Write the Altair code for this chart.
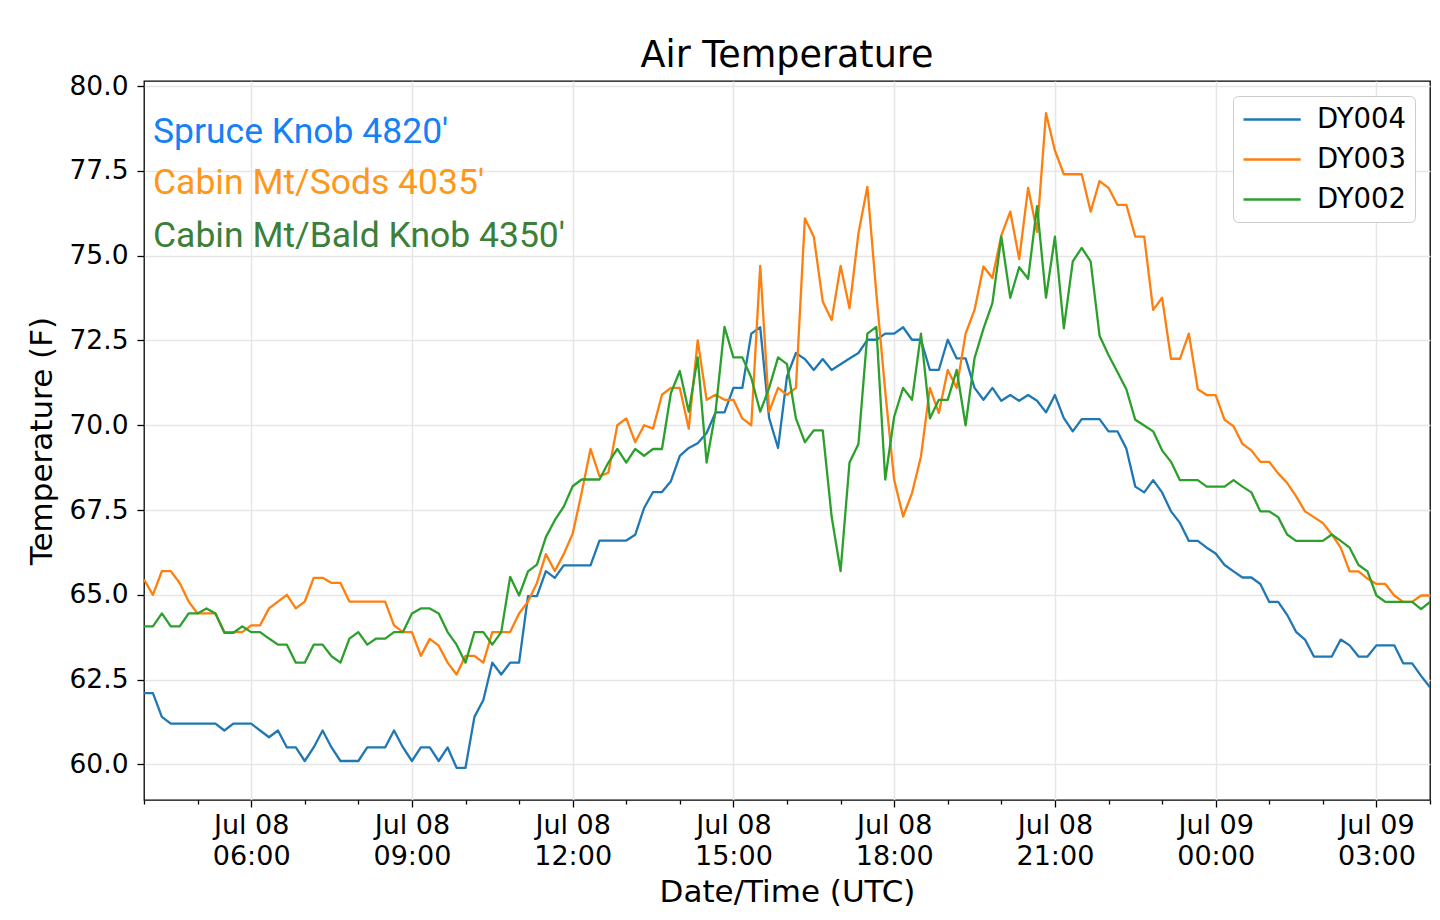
import altair as alt
import pandas as pd

# ---- data (10-minute samples from Jul 08 04:00 UTC) ----
dy004 = [
    62.1, 62.1, 61.4, 61.2, 61.2, 61.2, 61.2, 61.2, 61.2, 61.0,
    61.2, 61.2, 61.2, 61.0, 60.8, 61.0, 60.5, 60.5, 60.1, 60.5,
    61.0, 60.5, 60.1, 60.1, 60.1, 60.5, 60.5, 60.5, 61.0, 60.5,
    60.1, 60.5, 60.5, 60.1, 60.5, 59.9, 59.9, 61.4, 61.9, 63.0,
    62.65, 63.0, 63.0, 64.96, 64.96, 65.7, 65.5, 65.87, 65.87, 65.87,
    65.87, 66.6, 66.6, 66.6, 66.6, 66.77, 67.56, 68.03, 68.03, 68.35,
    69.1, 69.33, 69.47, 69.77, 70.38, 70.38, 71.1, 71.1, 72.7, 72.89,
    70.21, 69.33, 71.44, 72.13, 71.95, 71.63, 71.95, 71.63, 71.8, 71.97,
    72.13, 72.52, 72.52, 72.7, 72.7, 72.89, 72.52, 72.52, 71.63, 71.63,
    72.52, 71.97, 71.97, 71.1, 70.75, 71.1, 70.72, 70.89, 70.72, 70.89,
    70.72, 70.38, 70.89, 70.21, 69.82, 70.18, 70.18, 70.18, 69.82, 69.82,
    69.31, 68.19, 68.02, 68.38, 68.02, 67.46, 67.12, 66.59, 66.59, 66.39,
    66.22, 65.88, 65.69, 65.51, 65.51, 65.32, 64.79, 64.79, 64.41, 63.91,
    63.68, 63.18, 63.18, 63.18, 63.68, 63.51, 63.18, 63.18, 63.51, 63.51,
    63.51, 62.98, 62.98, 62.61, 62.27,
]
dy003 = [
    65.45, 65.0, 65.7, 65.7, 65.35, 64.8, 64.45, 64.45, 64.45, 63.9,
    63.9, 63.9, 64.1, 64.1, 64.6, 64.8, 65.0, 64.6, 64.8, 65.5,
    65.5, 65.35, 65.35, 64.8, 64.8, 64.8, 64.8, 64.8, 64.1, 63.9,
    63.9, 63.2, 63.7, 63.5, 63.0, 62.65, 63.2, 63.2, 63.0, 63.9,
    63.9, 63.9, 64.45, 64.8, 65.35, 66.2, 65.7, 66.2, 66.8, 68.0,
    69.3, 68.5, 68.6, 70.0, 70.2, 69.5, 70.0, 69.9, 70.9, 71.1,
    71.1, 69.9, 72.5, 70.75, 70.9, 70.75, 70.75, 70.2, 70.0, 74.7,
    70.4, 71.1, 70.9, 71.1, 76.1, 75.56, 73.65, 73.1, 74.7, 73.45,
    75.66, 77.03, 73.9, 71.0, 68.39, 67.31, 68.0, 69.08, 71.1, 70.36,
    71.63, 71.1, 72.7, 73.4, 74.68, 74.34, 75.6, 76.3, 74.9, 77.0,
    75.7, 79.2, 78.1, 77.4, 77.4, 77.4, 76.3, 77.2, 77.0, 76.5,
    76.5, 75.56, 75.56, 73.4, 73.76, 71.96, 71.96, 72.7, 71.06, 70.89,
    70.89, 70.16, 69.97, 69.45, 69.26, 68.92, 68.92, 68.58, 68.3, 67.91,
    67.46, 67.29, 67.12, 66.78, 66.39, 65.69, 65.69, 65.48, 65.32, 65.32,
    64.98, 64.79, 64.79, 64.98, 64.98,
]
dy002 = [
    64.07, 64.07, 64.45, 64.07, 64.07, 64.45, 64.45, 64.6, 64.45, 63.88,
    63.88, 64.07, 63.9, 63.9, 63.71, 63.53, 63.53, 63.0, 63.0, 63.53,
    63.53, 63.19, 63.0, 63.71, 63.9, 63.53, 63.71, 63.71, 63.9, 63.9,
    64.45, 64.6, 64.6, 64.45, 63.9, 63.53, 63.0, 63.9, 63.9, 63.53,
    63.9, 65.53, 64.98, 65.69, 65.89, 66.7, 67.2, 67.6, 68.2, 68.4,
    68.4, 68.4, 68.9, 69.3, 68.9, 69.3, 69.1, 69.3, 69.3, 70.95,
    71.6, 70.4, 72.0, 68.9, 70.4, 72.9, 72.0, 72.0, 71.4, 70.4,
    71.1, 72.0, 71.8, 70.2, 69.5, 69.85, 69.85, 67.3, 65.7, 68.9,
    69.45, 72.7, 72.9, 68.4, 70.25, 71.1, 70.75, 72.7, 70.2, 70.75,
    70.75, 71.63, 70.0, 71.98, 72.85, 73.6, 75.56, 73.76, 74.66, 74.32,
    76.46, 73.76, 75.56, 72.86, 74.83, 75.23, 74.83, 72.64, 72.07, 71.57,
    71.06, 70.16, 69.99, 69.82, 69.26, 68.92, 68.38, 68.38, 68.38, 68.19,
    68.19, 68.19, 68.38, 68.19, 68.02, 67.46, 67.46, 67.29, 66.78, 66.59,
    66.59, 66.59, 66.59, 66.78, 66.59, 66.39, 65.88, 65.69, 64.98, 64.79,
    64.79, 64.79, 64.79, 64.58, 64.79,
]

stations = ["DY004", "DY003", "DY002"]
line_colors = ["#1f77b4", "#ff7f0e", "#2ca02c"]
series = [dy004, dy003, dy002]

annot_labels = ["Spruce Knob 4820'", "Cabin Mt/Sods 4035'", "Cabin Mt/Bald Knob 4350'"]
annot_colors = ["#1680f5", "#ff981a", "#3b7f39"]

y_ticks = [60.0, 62.5, 65.0, 67.5, 70.0, 72.5, 75.0, 77.5, 80.0]

times = pd.date_range("2019-07-08 04:00", periods=len(dy004), freq="10min")
time_str = [t.strftime("%Y-%m-%dT%H:%M:%SZ") for t in times]

rows = []
for name, vals in zip(stations, series):
    for t, v in zip(time_str, vals):
        rows.append({"time": t, "temp": v, "station": name})
df = pd.DataFrame(rows)

hours = pd.date_range("2019-07-08 04:00", periods=25, freq="1h")
hour_ticks = [alt.DateTime(year=h.year, month=h.month, date=h.day, hours=h.hour, utc=True) for h in hours]

FONT = "DejaVu Sans"

x_enc = alt.X(
    "time:T",
    scale=alt.Scale(type="utc", domain=[hour_ticks[0], hour_ticks[-1]], nice=False),
    axis=alt.Axis(
        title="Date/Time (UTC)",
        values=hour_ticks,
        labelExpr="utchours(datum.value) % 3 == 0 ? [utcFormat(datum.value, '%b %d'), utcFormat(datum.value, '%H:%M')] : ''",
        labelOverlap=False,
        labelFlush=False,
        labelFontSize=27,
        labelLineHeight=31,
        labelPadding=5,
        labelBaseline="top",
        tickSize={"condition": {"test": "utchours(datum.value) % 3 == 0", "value": 7}, "value": 4},
        gridOpacity={"condition": {"test": "utchours(datum.value) % 3 == 0", "value": 1}, "value": 0},
        titleFontSize=31,
        titlePadding=8,
    ),
)
y_enc = alt.Y(
    "temp:Q",
    scale=alt.Scale(domain=[58.95, 80.15], nice=False, zero=False),
    axis=alt.Axis(
        title="Temperature (F)",
        values=y_ticks,
        format=".1f",
        labelFontSize=26.5,
        labelPadding=9,
        tickSize=7,
        titleFontSize=31,
        titlePadding=10,
    ),
)
color_enc = alt.Color(
    "station:N",
    scale=alt.Scale(domain=stations, range=line_colors),
    legend=alt.Legend(
        title=None,
        orient="top-right",
        offset=15,
        padding=9,
        strokeColor="#cccccc",
        fillColor="white",
        cornerRadius=5,
        labelFontSize=27.5,
        labelFont=FONT,
        labelColor="black",
        labelOffset=46,
        symbolType="M-1,0H3.4",
        symbolSize=676,
        symbolStrokeWidth=2.3,
        rowPadding=12,
    ),
)

layers = []
for name in stations:
    layers.append(
        alt.Chart(df)
        .transform_filter(alt.datum.station == name)
        .mark_line(strokeWidth=2.3, strokeJoin="round", clip=True)
        .encode(x=x_enc, y=y_enc, color=color_enc)
    )

annot_y = [62, 113, 166]
for lab, col, yy in zip(annot_labels, annot_colors, annot_y):
    layers.append(
        alt.Chart(pd.DataFrame({"label": [lab]}))
        .mark_text(align="left", baseline="alphabetic", font="Roboto", fontSize=35.5, color=col)
        .encode(text="label:N", x=alt.value(9), y=alt.value(yy))
    )

chart = (
    alt.layer(*layers)
    .properties(
        width=1286,
        height=719,
        title=alt.TitleParams(
            "Air Temperature",
            fontSize=36.5,
            font=FONT,
            fontWeight="normal",
            color="black",
            anchor="middle",
            frame="group",
            baseline="alphabetic",
            offset=-30,
        ),
        autosize="none",
        padding={"left": 136, "top": 73, "right": 2, "bottom": 112},
    )
    .configure(font=FONT)
    .configure_view(stroke="black", strokeWidth=1.3)
    .configure_axis(
        labelFont=FONT,
        titleFont=FONT,
        labelColor="black",
        titleColor="black",
        titleFontWeight="normal",
        tickColor="black",
        tickWidth=1.3,
        domain=False,
        gridColor="#e6e6e6",
        gridWidth=1.5,
    )
)

chart.save("out.html", embed_options={"renderer": "svg", "actions": False})
